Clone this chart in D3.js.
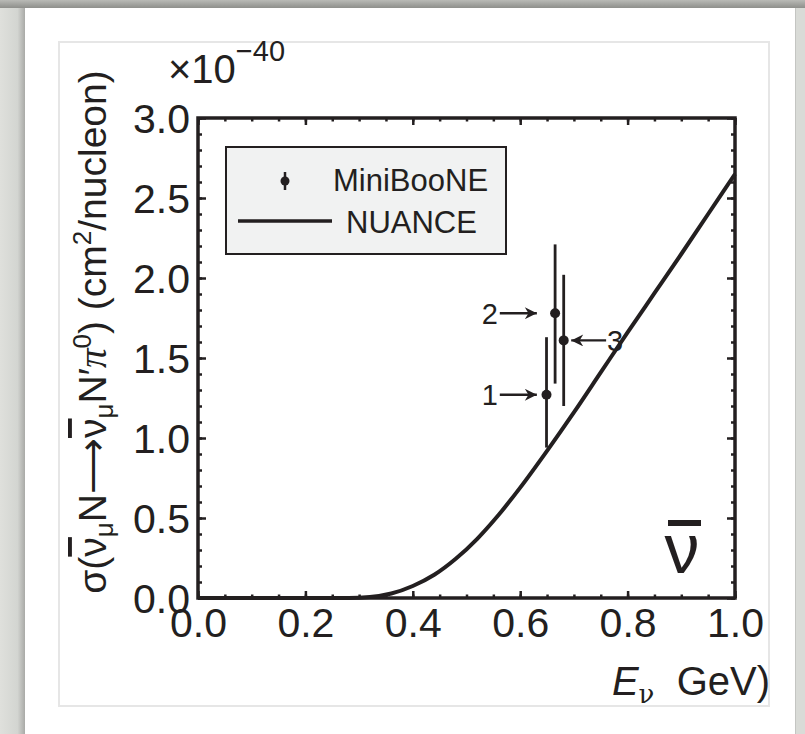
<!DOCTYPE html>
<html>
<head>
<meta charset="utf-8">
<script src="https://cdn.jsdelivr.net/npm/d3@7"></script>
<style>
  body { margin: 0; background: #d7d9d5; }
  svg { display: block; }
  text { font-family: "Liberation Sans", Arial, sans-serif; fill: #231f20; }
</style>
</head>
<body>
<div id="chart"></div>
<script>
// NUANCE prediction (units of 1e-40 cm^2/nucleon)
const nuanceE     = [0, 0.1, 0.2, 0.28, 0.32, 0.36, 0.40, 0.44, 0.48, 0.52, 0.56, 0.60, 0.65, 0.70, 0.75, 0.80, 0.85, 0.90, 0.95, 1.0];
const nuanceSigma = [0, 0, 0, 0, 0.006, 0.028, 0.075, 0.145, 0.245, 0.37, 0.52, 0.69, 0.92, 1.16, 1.41, 1.66, 1.905, 2.15, 2.40, 2.65];

// MiniBooNE points
const pointLabels = ["1", "2", "3"];
const pointE      = [0.649, 0.665, 0.681];
const pointSigma  = [1.27, 1.78, 1.61];
const errUp       = [0.36, 0.43, 0.41];
const errDown     = [0.33, 0.44, 0.41];

const xTicks = [0.0, 0.2, 0.4, 0.6, 0.8, 1.0];
const yTicks = [0.0, 0.5, 1.0, 1.5, 2.0, 2.5, 3.0];

const W = 805, H = 734;
const svg = d3.select("#chart").append("svg")
    .attr("width", W)
    .attr("height", H);

// page background / panel
const defs = svg.append("defs");
const topGrad = defs.append("linearGradient").attr("id", "topband").attr("x1", 0).attr("y1", 0).attr("x2", 0).attr("y2", 1);
topGrad.append("stop").attr("offset", "0%").attr("stop-color", "#b9bab6");
topGrad.append("stop").attr("offset", "100%").attr("stop-color", "#8e8f8b");
const leftGrad = defs.append("linearGradient").attr("id", "leftshade").attr("x1", 0).attr("y1", 0).attr("x2", 1).attr("y2", 0);
leftGrad.append("stop").attr("offset", "0%").attr("stop-color", "#dfe0dc");
leftGrad.append("stop").attr("offset", "70%").attr("stop-color", "#d3d5d1");
leftGrad.append("stop").attr("offset", "100%").attr("stop-color", "#a9aaa7");

svg.append("rect").attr("width", W).attr("height", H).attr("fill", "#d9dbd7");
svg.append("rect").attr("x", 0).attr("y", 0).attr("width", 25).attr("height", H).attr("fill", "url(#leftshade)");
svg.append("rect").attr("x", 0).attr("y", 0).attr("width", W).attr("height", 8).attr("fill", "url(#topband)");
svg.append("rect").attr("x", 25).attr("y", 8).attr("width", 770).attr("height", H - 8).attr("fill", "#ffffff");
svg.append("line").attr("x1", 795.5).attr("x2", 795.5).attr("y1", 8).attr("y2", H)
    .attr("stroke", "#c4c5c2").attr("stroke-width", 1);
svg.append("rect").attr("x", 59).attr("y", 42).attr("width", 710).attr("height", 664)
    .attr("fill", "none").attr("stroke", "#e6e6e6").attr("stroke-width", 2);

const x = d3.scaleLinear().domain([0, 1]).range([198, 735]);
const y = d3.scaleLinear().domain([0, 3]).range([598, 118]);

const ink = "#231f20";

// ticks (inward on all four sides)
const xMinor = d3.range(0, 1.0001, 0.05).map(v => +v.toFixed(2));
const yMinor = d3.range(0, 3.0001, 0.1).map(v => +v.toFixed(1));

function styleAxis(g) {
    g.select(".domain").remove();
    g.selectAll(".tick line").attr("stroke", ink).attr("stroke-width", 2.5);
}

svg.append("g").attr("transform", `translate(0,${y(0)})`)
    .call(d3.axisBottom(x).tickValues(xMinor).tickSize(-3.5).tickFormat(""))
    .call(styleAxis);
svg.append("g").attr("transform", `translate(0,${y(3)})`)
    .call(d3.axisTop(x).tickValues(xMinor).tickSize(-3.5).tickFormat(""))
    .call(styleAxis);
svg.append("g").attr("transform", `translate(${x(0)},0)`)
    .call(d3.axisLeft(y).tickValues(yMinor).tickSize(-4).tickFormat(""))
    .call(styleAxis);
svg.append("g").attr("transform", `translate(${x(1)},0)`)
    .call(d3.axisRight(y).tickValues(yMinor).tickSize(-4).tickFormat(""))
    .call(styleAxis);

// major ticks with labels
svg.append("g").attr("transform", `translate(0,${y(0)})`)
    .call(d3.axisBottom(x).tickValues(xTicks).tickSize(-7).tickPadding(10).tickFormat(d3.format(".1f")))
    .call(styleAxis)
    .selectAll("text").attr("font-size", 41).attr("fill", ink).attr("dy", "0.71em")
    .attr("font-family", "Liberation Sans");
svg.append("g").attr("transform", `translate(0,${y(3)})`)
    .call(d3.axisTop(x).tickValues(xTicks).tickSize(-7).tickFormat(""))
    .call(styleAxis);
svg.append("g").attr("transform", `translate(${x(0)},0)`)
    .call(d3.axisLeft(y).tickValues(yTicks).tickSize(-8).tickPadding(8).tickFormat(d3.format(".1f")))
    .call(styleAxis)
    .selectAll("text").attr("font-size", 41).attr("fill", ink).attr("dy", "0.36em")
    .attr("font-family", "Liberation Sans");
svg.append("g").attr("transform", `translate(${x(1)},0)`)
    .call(d3.axisRight(y).tickValues(yTicks).tickSize(-8).tickFormat(""))
    .call(styleAxis);

// frame
svg.append("rect")
    .attr("x", x(0)).attr("y", y(3))
    .attr("width", x(1) - x(0)).attr("height", y(0) - y(3))
    .attr("fill", "none").attr("stroke", ink).attr("stroke-width", 3.5);

// NUANCE curve
const curveData = nuanceE.map((e, i) => ({ e: e, s: nuanceSigma[i] }));
svg.append("path")
    .datum(curveData)
    .attr("fill", "none")
    .attr("stroke", ink)
    .attr("stroke-width", 4)
    .attr("d", d3.line().x(d => x(d.e)).y(d => y(d.s)).curve(d3.curveMonotoneX));

// MiniBooNE points
const pts = pointE.map((e, i) => ({ label: pointLabels[i], e: e, s: pointSigma[i], lo: pointSigma[i] - errDown[i], hi: pointSigma[i] + errUp[i] }));
svg.selectAll(".err").data(pts).enter().append("line")
    .attr("x1", d => x(d.e)).attr("x2", d => x(d.e))
    .attr("y1", d => y(d.lo)).attr("y2", d => y(d.hi))
    .attr("stroke", ink).attr("stroke-width", 2.8);
svg.selectAll(".dot").data(pts).enter().append("circle")
    .attr("cx", d => x(d.e)).attr("cy", d => y(d.s)).attr("r", 5)
    .attr("fill", ink);

// arrows with point numbers
defs.append("marker").attr("id", "arrow").attr("viewBox", "0 0 10 10")
    .attr("refX", 10).attr("refY", 5)
    .attr("markerUnits", "userSpaceOnUse").attr("orient", "auto")
    .attr("markerWidth", 17).attr("markerHeight", 12)
    .append("path").attr("d", "M0,0 L10,5 L0,10 L3,5 Z").attr("fill", ink);

const arrowTail = [0.562, 0.562, 0.760];
const arrowTip  = [0.631, 0.631, 0.695];
pts.forEach((d, i) => {
    svg.append("line")
        .attr("x1", x(arrowTail[i])).attr("x2", x(arrowTip[i]))
        .attr("y1", y(d.s)).attr("y2", y(d.s))
        .attr("stroke", ink).attr("stroke-width", 2.4)
        .attr("marker-end", "url(#arrow)");
    const left = arrowTail[i] < arrowTip[i];
    svg.append("text")
        .attr("x", x(arrowTail[i]) + (left ? -2 : 1))
        .attr("y", y(d.s))
        .attr("dy", "0.36em")
        .attr("text-anchor", left ? "end" : "start")
        .attr("font-size", 29)
        .text(d.label);
});

// legend
const lg = svg.append("g");
lg.append("rect").attr("x", 226).attr("y", 147).attr("width", 280).attr("height", 107)
    .attr("fill", "#f1f2f2").attr("stroke", ink).attr("stroke-width", 2);
lg.append("line").attr("x1", 285).attr("x2", 285).attr("y1", 172).attr("y2", 190)
    .attr("stroke", ink).attr("stroke-width", 2.5);
lg.append("circle").attr("cx", 285).attr("cy", 181).attr("r", 4.5).attr("fill", ink);
lg.append("text").attr("x", 333).attr("y", 191).attr("font-size", 31).text("MiniBooNE");
lg.append("line").attr("x1", 238).attr("x2", 332).attr("y1", 221).attr("y2", 221)
    .attr("stroke", ink).attr("stroke-width", 3.5);
lg.append("text").attr("x", 346).attr("y", 233).attr("font-size", 31).text("NUANCE");

// nu-bar label
svg.append("text").attr("x", 682).attr("y", 573).attr("text-anchor", "middle")
    .attr("font-family", "DejaVu Serif").attr("font-size", 70)
    .text("ν");
svg.append("line").attr("x1", 668).attr("x2", 701).attr("y1", 523).attr("y2", 523)
    .attr("stroke", ink).attr("stroke-width", 6);

// scale multiplier
const mult = svg.append("text").attr("x", 168).attr("y", 83).attr("font-size", 40);
mult.append("tspan").text("×10");
mult.append("tspan").attr("font-size", 29).attr("dy", -22).text("−40");

// x-axis title
const xt = svg.append("text").attr("x", 770).attr("y", 695).attr("text-anchor", "end").attr("font-size", 40);
xt.append("tspan").attr("font-style", "italic").text("E");
xt.append("tspan").attr("font-family", "DejaVu Serif").attr("font-size", 26).attr("dy", 8).text("ν");
xt.append("tspan").attr("dy", -8).text("\u00a0 GeV)");

// y-axis title
const yt = svg.append("text")
    .attr("transform", "translate(106,332) rotate(-90)")
    .attr("text-anchor", "middle")
    .attr("font-size", 39);
yt.append("tspan").text("σ(");
yt.append("tspan").attr("text-decoration", "overline").text("ν");
yt.append("tspan").attr("font-size", 26).attr("dy", 7).text("μ");
yt.append("tspan").attr("dy", -7).text("N⟶");
yt.append("tspan").attr("text-decoration", "overline").text("ν");
yt.append("tspan").attr("font-size", 26).attr("dy", 7).text("μ");
yt.append("tspan").attr("dy", -7).text("N′");
yt.append("tspan").attr("font-style", "italic").attr("font-family", "Liberation Serif").text("π");
yt.append("tspan").attr("font-size", 26).attr("dy", -15).text("0");
yt.append("tspan").attr("dy", 15).text(") (cm");
yt.append("tspan").attr("font-size", 26).attr("dy", -15).text("2");
yt.append("tspan").attr("dy", 15).text("/nucleon)");
</script>
</body>
</html>
